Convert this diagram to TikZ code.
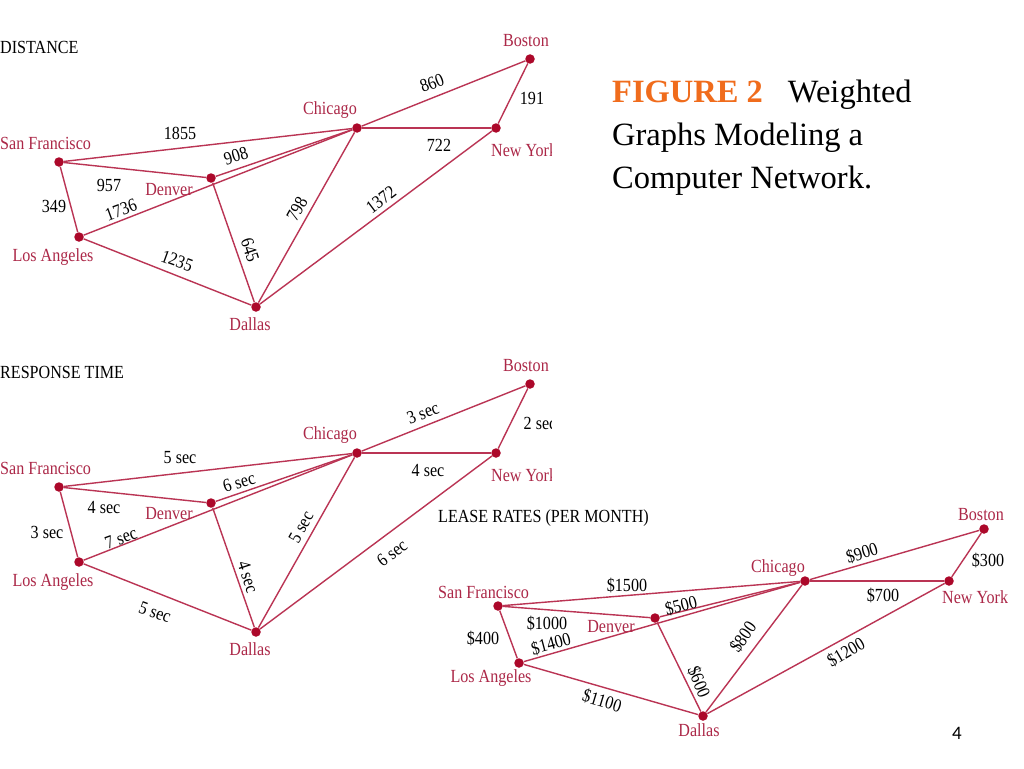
\documentclass[tikz,border=0pt]{standalone}
\usepackage{fontspec}
\setmainfont{Liberation Serif}
\newfontfamily\labserif[FakeStretch=0.87]{Liberation Serif}
\newfontfamily\pagenumfont{Carlito}
\definecolor{edgec}{RGB}{186,52,84}
\definecolor{dotc}{RGB}{172,8,42}
\definecolor{cityc}{RGB}{172,40,72}
\definecolor{figorange}{RGB}{240,108,28}
\newcommand\labfont{\labserif\fontsize{18.5}{20}\selectfont}
\newcommand\titlefont{\fontsize{32.5}{38}\selectfont}
\tikzset{
  citydot/.style={circle,fill=dotc,inner sep=0pt,minimum size=9.5pt},
  city/.style={text=cityc,font=\labfont,inner sep=0pt},
  wt/.style={text=black,font=\labfont,inner sep=0pt},
  heading/.style={text=black,font=\labfont,inner sep=0pt,anchor=west},
  link/.style={draw=edgec,line width=1.4pt},
  titleline/.style={anchor=base west,inner sep=0pt,font=\titlefont,text=black}
}
\begin{document}
\begin{tikzpicture}[x=1pt,y=-1pt]
\fill[white] (0,0) rectangle (1024,768);
\useasboundingbox (0,0) rectangle (1024,768);

% ---------------- DISTANCE ----------------
\begin{scope}
\clip (0,0) rectangle (551,340);
\node[heading] (h1) at (0,47) {DISTANCE};
\node[citydot] (bos1) at (530,59) {};
\node[citydot] (chi1) at (357,128) {};
\node[citydot] (ny1) at (496,128) {};
\node[citydot] (sf1) at (59,162) {};
\node[citydot] (den1) at (211,178) {};
\node[citydot] (la1) at (79,237) {};
\node[citydot] (dal1) at (256,307) {};
\draw[link] (sf1) -- (chi1);
\draw[link] (sf1) -- (den1);
\draw[link] (sf1) -- (la1);
\draw[link] (den1) -- (chi1);
\draw[link] (den1) -- (dal1);
\draw[link] (la1) -- (chi1);
\draw[link] (la1) -- (dal1);
\draw[link] (dal1) -- (chi1);
\draw[link] (dal1) -- (ny1);
\draw[link] (chi1) -- (ny1);
\draw[link] (chi1) -- (bos1);
\draw[link] (bos1) -- (ny1);
\node[city] (bos1l) at (526,41) {Boston};
\node[city] (chi1l) at (330,110) {Chicago};
\node[city,anchor=west] (sf1l) at (0,143) {San Francisco};
\node[city] (den1l) at (169,190) {Denver};
\node[city] (la1l) at (53,257) {Los Angeles};
\node[city] (dal1l) at (250,324) {Dallas};
\node[city,anchor=west] (ny1l) at (491,150) {New York};
\node[wt] (w1a) at (180,133) {1855};
\node[wt,rotate=21] (w1b) at (432,83) {860};
\node[wt] (w1c) at (532,98) {191};
\node[wt] (w1d) at (439,145) {722};
\node[wt,rotate=17] (w1e) at (236,156) {908};
\node[wt] (w1f) at (109,185) {957};
\node[wt,rotate=20] (w1g) at (121,210) {1736};
\node[wt] (w1h) at (54,206) {349};
\node[wt,rotate=-20] (w1i) at (177,261) {1235};
\node[wt,rotate=-72] (w1j) at (250,250) {645};
\node[wt,rotate=61] (w1k) at (297,209) {798};
\node[wt,rotate=37] (w1l) at (381,200) {1372};
\end{scope}

% ---------------- RESPONSE TIME ----------------
\begin{scope}
\clip (0,345) rectangle (551,665);
\node[heading] (h2) at (0,372) {RESPONSE TIME};
\node[citydot] (bos2) at (530,384) {};
\node[citydot] (chi2) at (357,453) {};
\node[citydot] (ny2) at (496,453) {};
\node[citydot] (sf2) at (59,487) {};
\node[citydot] (den2) at (211,503) {};
\node[citydot] (la2) at (79,562) {};
\node[citydot] (dal2) at (256,632) {};
\draw[link] (sf2) -- (chi2);
\draw[link] (sf2) -- (den2);
\draw[link] (sf2) -- (la2);
\draw[link] (den2) -- (chi2);
\draw[link] (den2) -- (dal2);
\draw[link] (la2) -- (chi2);
\draw[link] (la2) -- (dal2);
\draw[link] (dal2) -- (chi2);
\draw[link] (dal2) -- (ny2);
\draw[link] (chi2) -- (ny2);
\draw[link] (chi2) -- (bos2);
\draw[link] (bos2) -- (ny2);
\node[city] (bos2l) at (526,366) {Boston};
\node[city] (chi2l) at (330,435) {Chicago};
\node[city,anchor=west] (sf2l) at (0,468) {San Francisco};
\node[city] (den2l) at (169,514) {Denver};
\node[city] (la2l) at (53,582) {Los Angeles};
\node[city] (dal2l) at (250,649) {Dallas};
\node[city,anchor=west] (ny2l) at (491,475) {New York};
\node[wt] (w2a) at (180,458) {5 sec};
\node[wt,rotate=21] (w2b) at (423,413) {3 sec};
\node[wt] (w2c) at (540,423) {2 sec};
\node[wt] (w2d) at (428,470) {4 sec};
\node[wt,rotate=17] (w2e) at (239,482) {6 sec};
\node[wt] (w2f) at (104,507) {4 sec};
\node[wt,rotate=20] (w2g) at (121,538) {7 sec};
\node[wt] (w2h) at (47,532) {3 sec};
\node[wt,rotate=-20] (w2i) at (155,612) {5 sec};
\node[wt,rotate=-72] (w2j) at (248,577) {4 sec};
\node[wt,rotate=61] (w2k) at (301,527) {5 sec};
\node[wt,rotate=37] (w2l) at (392,553) {6 sec};
\end{scope}

% ---------------- LEASE RATES ----------------
\begin{scope}
\clip (420,500) rectangle (1007,745);
\node[heading] (h3) at (438,518) {LEASE RATES (PER MONTH)};
\node[citydot] (bos3) at (984,529) {};
\node[citydot] (chi3) at (805,581) {};
\node[citydot] (ny3) at (949,581) {};
\node[citydot] (sf3) at (498,606) {};
\node[citydot] (den3) at (655,618) {};
\node[citydot] (la3) at (519,663) {};
\node[citydot] (dal3) at (703,716) {};
\draw[link] (sf3) -- (chi3);
\draw[link] (sf3) -- (den3);
\draw[link] (sf3) -- (la3);
\draw[link] (den3) -- (chi3);
\draw[link] (den3) -- (dal3);
\draw[link] (la3) -- (chi3);
\draw[link] (la3) -- (dal3);
\draw[link] (dal3) -- (chi3);
\draw[link] (dal3) -- (ny3);
\draw[link] (chi3) -- (ny3);
\draw[link] (chi3) -- (bos3);
\draw[link] (bos3) -- (ny3);
\node[city] (bos3l) at (981,515) {Boston};
\node[city] (chi3l) at (778,568) {Chicago};
\node[city,anchor=west] (sf3l) at (438,592) {San Francisco};
\node[city] (den3l) at (611,627) {Denver};
\node[city] (la3l) at (491,678) {Los Angeles};
\node[city] (dal3l) at (699,730) {Dallas};
\node[city,anchor=west] (ny3l) at (942,597) {New York};
\node[wt] (w3a) at (627,585) {\$1500};
\node[wt,rotate=17] (w3b) at (862,553) {\$900};
\node[wt] (w3c) at (988,560) {\$300};
\node[wt] (w3d) at (883,595) {\$700};
\node[wt,rotate=14] (w3e) at (681,606) {\$500};
\node[wt] (w3f) at (547,623) {\$1000};
\node[wt,rotate=15] (w3g) at (551,644) {\$1400};
\node[wt] (w3h) at (483,638) {\$400};
\node[wt,rotate=-17] (w3i) at (602,701) {\$1100};
\node[wt,rotate=-68] (w3j) at (699,682) {\$600};
\node[wt,rotate=55] (w3k) at (743,637) {\$800};
\node[wt,rotate=30] (w3l) at (846,652) {\$1200};
\end{scope}

% ---------------- Title and page number ----------------
\node[titleline] (t1) at (612,102) {{\bfseries\color{figorange}FIGURE 2}\hspace{25pt}Weighted};
\node[titleline] (t2) at (612,145) {Graphs Modeling a};
\node[titleline] (t3) at (612,188) {Computer Network.};
\node[inner sep=0pt,font={\pagenumfont\fontsize{19}{22}\selectfont}] (pn) at (957,733) {4};
\end{tikzpicture}
\end{document}
